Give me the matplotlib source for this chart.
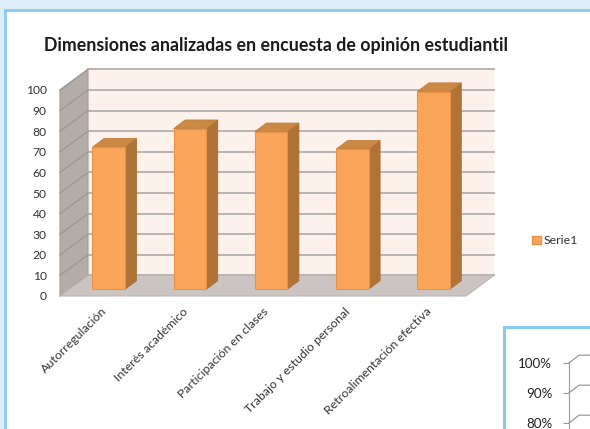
import matplotlib.pyplot as plt
from matplotlib.patches import Polygon, Rectangle, Patch

# data
categories = ["Autorregulación", "Interés académico", "Participación en clases",
              "Trabajo y estudio personal", "Retroalimentación efectiva"]
values = [69, 78, 76.5, 68, 96]
series_name = "Serie1"
yticks = list(range(0, 101, 10))
frag_ticks = [80, 90, 100]
frag_labels = ["80%", "90%", "100%"]

W, H = 590, 429
plt.rcParams['font.family'] = ['Lato', 'DejaVu Sans']

fig = plt.figure(figsize=(W / 100, H / 100), dpi=100)
fig.patch.set_facecolor('#DDEEF7')


def px_box(x0, y0, x1, y1):
    """figure-fraction rect from pixel box (origin top-left)"""
    return [x0 / W, 1 - y1 / H, (x1 - x0) / W, (y1 - y0) / H]


# main chart frame
fig.patches.append(Rectangle((5 / W, -0.1), 1.1, 1 - 10 / H + 0.1, transform=fig.transFigure,
                             facecolor='white', edgecolor='#86CBEF', lw=2, zorder=-5))

ax = fig.add_axes(px_box(60, 90, 466, 296))
ax.set_zorder(1)
ax.set_xlim(-0.5, 4.5)
ax.set_ylim(0, 100)
ax.patch.set_alpha(0)
for s in ax.spines.values():
    s.set_visible(False)

DX, DY = 0.345, 10.0          # full depth offset (x units, value units)
x0, x1 = -0.5, 4.5

# back wall
ax.add_patch(Polygon([(x0 + DX, DY), (x1 + DX, DY), (x1 + DX, 100 + DY), (x0 + DX, 100 + DY)],
                     closed=True, facecolor='#FDF1EC', edgecolor='none', clip_on=False, zorder=1))
# side wall
ax.add_patch(Polygon([(x0, 0), (x0 + DX, DY), (x0 + DX, 100 + DY), (x0, 100)],
                     closed=True, facecolor='#B3ACA8', edgecolor='#A39C98', lw=0.8,
                     clip_on=False, zorder=1))
for v in yticks:
    ax.plot([x0 + DX, x1 + DX], [v + DY, v + DY], color='#B9B4B2', lw=1.4, clip_on=False, zorder=2)
    ax.plot([x0, x0 + DX], [v, v + DY], color='#9E9894', lw=1.0, clip_on=False, zorder=2)
# floor
ax.add_patch(Polygon([(x0, 0), (x1, 0), (x1 + DX, DY), (x0 + DX, DY)],
                     closed=True, facecolor='#CCC4C2', edgecolor='#BDB6B4', lw=0.8,
                     clip_on=False, zorder=3))

# bars
bar_w = 0.40
xoff, yoff = 0.10, 3.25
bdx, bdy = 0.142, 4.2
xs = [i + xoff for i in range(len(values))]
ax.bar(xs, values, width=bar_w, bottom=yoff, color='#FBA55A', edgecolor='#E8924A',
       lw=0.8, zorder=5, clip_on=False, label=series_name)
for x, v in zip(xs, values):
    l, r = x - bar_w / 2, x + bar_w / 2
    top = yoff + v
    ax.add_patch(Polygon([(r, yoff), (r + bdx, yoff + bdy), (r + bdx, top + bdy), (r, top)],
                         closed=True, facecolor='#B07337', edgecolor='#A86C32', lw=0.6,
                         clip_on=False, zorder=4))
    ax.add_patch(Polygon([(l, top), (r, top), (r + bdx, top + bdy), (l + bdx, top + bdy)],
                         closed=True, facecolor='#CB8945', edgecolor='#C07E3C', lw=0.6,
                         clip_on=False, zorder=4))

ax.set_yticks(yticks)
ax.set_yticklabels([str(t) for t in yticks])
ax.set_xticks(range(len(categories)))
ax.set_xticklabels(categories, rotation=45, ha='right', rotation_mode='anchor')
ax.tick_params(axis='y', length=0, pad=9.5, labelsize=8.7, labelcolor='#333333')
ax.tick_params(axis='x', length=0, pad=7, labelsize=8.9, labelcolor='#333333')

fig.text(276.5 / W, 1 - 45 / H, "Dimensiones analizadas en encuesta de opinión estudiantil",
         ha='center', va='center', fontsize=12.8, fontweight='bold', color='#1A1A1A')

fig.legend(handles=[Patch(facecolor='#FBA55A', edgecolor='#E8924A', label=series_name)],
           loc='center left', bbox_to_anchor=(521 / W, 1 - 241 / H), frameon=False,
           handlelength=0.7, handleheight=0.7, handletextpad=0.2, fontsize=8.9,
           labelcolor='#333333')

# second chart peeking in at the bottom right
fig.patches.append(Rectangle((504 / W, -0.1), 0.3, (429 - 327) / H + 0.1, transform=fig.transFigure,
                             facecolor='white', edgecolor='#86CBEF', lw=2.2, zorder=6))
ax2 = fig.add_axes(px_box(569, 333, 640, 453))
ax2.set_zorder(7)
ax2.set_xlim(0, 71)
ax2.set_ylim(70, 110)
ax2.patch.set_alpha(0)
for k, s in ax2.spines.items():
    s.set_visible(k == 'left')
ax2.spines['left'].set_color('#9A9A9A')
ax2.spines['left'].set_bounds(70, 100.5)
ax2.set_xticks([])
ax2.set_yticks(frag_ticks)
ax2.set_yticklabels(frag_labels)
ax2.tick_params(axis='y', length=4, color='#9A9A9A', pad=8, labelsize=9.6, labelcolor='#222222')
for v in frag_ticks:
    ax2.plot([0, 10, 71], [v, v + 2.6, v + 2.6], color='#9A9A9A', lw=0.9, clip_on=False)

fig.savefig('out.png', dpi=100, facecolor=fig.get_facecolor())
